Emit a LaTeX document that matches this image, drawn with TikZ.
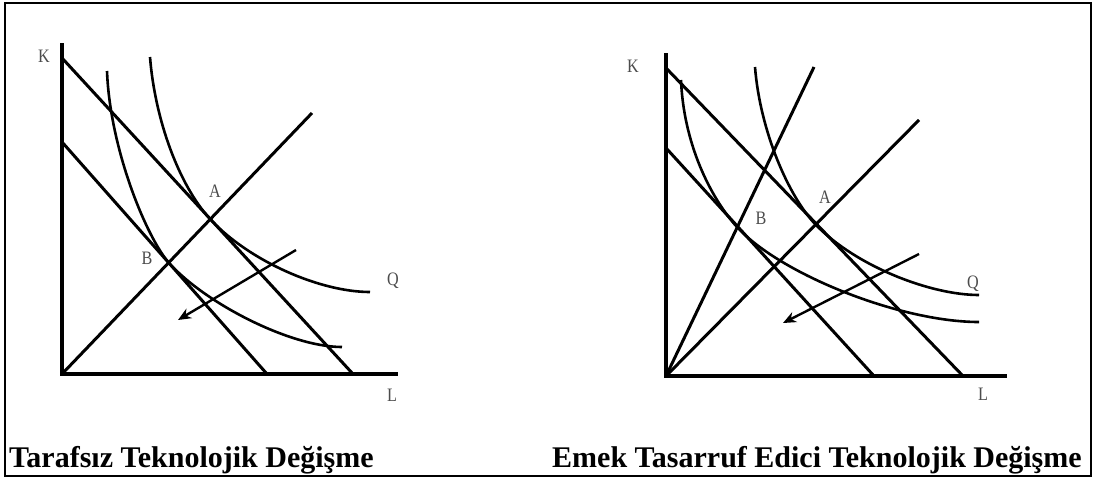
\documentclass[tikz,border=0pt]{standalone}
\usepackage{fontspec}
\setmainfont{Liberation Serif}
\usepackage{tikz}
\usetikzlibrary{arrows.meta}

\newcommand{\narrow}[1]{\scalebox{0.85}[1]{#1}}

\begin{document}
\begin{tikzpicture}[x=1pt, y=-1pt, >={Stealth[length=13pt,width=11pt]},
  axis/.style={line width=3.2pt},
  budget/.style={line width=3pt},
  ray/.style={line width=3pt},
  isoq/.style={line width=2.6pt},
  lbl/.style={font=\fontsize{19}{21}\selectfont, text=black!70, inner sep=0pt},
  caption/.style={font=\fontsize{30}{32}\selectfont\bfseries, anchor=base west, inner sep=0pt}]
\useasboundingbox (0,0) rectangle (1094,480);
\draw[line width=2pt] (5,3) rectangle (1091,476);

% left panel: neutral change
\coordinate (O1) at (62,374);
\coordinate (A1) at (210,219);
\coordinate (B1) at (169,263);
\draw[axis] (62,43) -- (O1) -- (398,374);
\node[lbl] (k1) at (44,56) {\narrow{K}};
\node[lbl] (l1) at (392,395) {\narrow{L}};
\draw[budget] (62,58) -- (353,374);
\draw[budget] (62,142) -- (267,374);
\draw[ray] (O1) -- (312,113);
\draw[isoq] (150,57) .. controls (155,120) and (179,185) .. (A1)
  .. controls (249,261) and (320,292) .. (370,292);
\draw[isoq] (107,71) .. controls (110,150) and (147,238) .. (B1)
  .. controls (205,303) and (290,347) .. (342,347);
\node[lbl] (a1) at (215,191) {\narrow{A}};
\node[lbl] (b1) at (147,258) {\narrow{B}};
\node[lbl] (q1) at (393,281) {\narrow{Q}};
\coordinate (s1) at (296,250);
\coordinate (e1) at (178,320);
\draw[->, line width=2.4pt] (s1) -- (e1);

% right panel: labour saving change
\coordinate (O2) at (666,376);
\coordinate (A2) at (816,225);
\coordinate (B2) at (737,227);
\draw[axis] (666,53) -- (O2) -- (1007,376);
\node[lbl] (k2) at (633,66) {\narrow{K}};
\node[lbl] (l2) at (983,394) {\narrow{L}};
\draw[budget] (666,68) -- (963,376);
\draw[budget] (666,148) -- (874,376);
\draw[ray] (O2) -- (814,67);
\draw[ray] (O2) -- (919,120);
\draw[isoq] (755,67) .. controls (760,130) and (788,196) .. (A2)
  .. controls (856,266) and (930,295) .. (979,295);
\draw[isoq] (681,80) .. controls (684,150) and (715,203) .. (B2)
  .. controls (780,274) and (900,322) .. (979,322);
\node[lbl] (a2) at (825,197) {\narrow{A}};
\node[lbl] (b2) at (761,218) {\narrow{B}};
\node[lbl] (q2) at (973,284) {\narrow{Q}};
\coordinate (s2) at (919,254);
\coordinate (e2) at (783,323);
\draw[->, line width=2.4pt] (s2) -- (e2);

% captions
\node[caption] (t1) at (9,467) {Tarafsız Teknolojik Değişme};
\node[caption] (t2) at (552,467) {Emek Tasarruf Edici Teknolojik Değişme};
\end{tikzpicture}
\end{document}
